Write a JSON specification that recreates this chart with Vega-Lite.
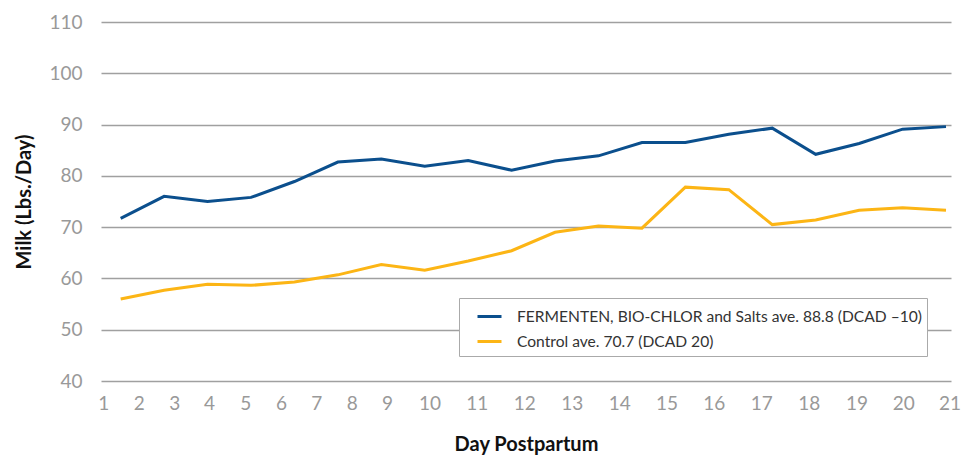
{
  "$schema": "https://vega.github.io/schema/vega-lite/v6.json",
  "width": 850,
  "height": 359,
  "autosize": "none",
  "padding": {"left": 101, "top": 22, "right": 23, "bottom": 74},
  "background": "white",
  "config": {
    "view": {"stroke": null},
    "font": "Lato"
  },
  "data": {
    "values": [
      {"i": 1, "series": "FERMENTEN, BIO-CHLOR and Salts ave. 88.8 (DCAD \u201310)", "milk": 71.7},
      {"i": 2, "series": "FERMENTEN, BIO-CHLOR and Salts ave. 88.8 (DCAD \u201310)", "milk": 76.0},
      {"i": 3, "series": "FERMENTEN, BIO-CHLOR and Salts ave. 88.8 (DCAD \u201310)", "milk": 75.0},
      {"i": 4, "series": "FERMENTEN, BIO-CHLOR and Salts ave. 88.8 (DCAD \u201310)", "milk": 75.8},
      {"i": 5, "series": "FERMENTEN, BIO-CHLOR and Salts ave. 88.8 (DCAD \u201310)", "milk": 78.9},
      {"i": 6, "series": "FERMENTEN, BIO-CHLOR and Salts ave. 88.8 (DCAD \u201310)", "milk": 82.7},
      {"i": 7, "series": "FERMENTEN, BIO-CHLOR and Salts ave. 88.8 (DCAD \u201310)", "milk": 83.3},
      {"i": 8, "series": "FERMENTEN, BIO-CHLOR and Salts ave. 88.8 (DCAD \u201310)", "milk": 81.9},
      {"i": 9, "series": "FERMENTEN, BIO-CHLOR and Salts ave. 88.8 (DCAD \u201310)", "milk": 83.0},
      {"i": 10, "series": "FERMENTEN, BIO-CHLOR and Salts ave. 88.8 (DCAD \u201310)", "milk": 81.1},
      {"i": 11, "series": "FERMENTEN, BIO-CHLOR and Salts ave. 88.8 (DCAD \u201310)", "milk": 82.9},
      {"i": 12, "series": "FERMENTEN, BIO-CHLOR and Salts ave. 88.8 (DCAD \u201310)", "milk": 83.9},
      {"i": 13, "series": "FERMENTEN, BIO-CHLOR and Salts ave. 88.8 (DCAD \u201310)", "milk": 86.5},
      {"i": 14, "series": "FERMENTEN, BIO-CHLOR and Salts ave. 88.8 (DCAD \u201310)", "milk": 86.5},
      {"i": 15, "series": "FERMENTEN, BIO-CHLOR and Salts ave. 88.8 (DCAD \u201310)", "milk": 88.1},
      {"i": 16, "series": "FERMENTEN, BIO-CHLOR and Salts ave. 88.8 (DCAD \u201310)", "milk": 89.3},
      {"i": 17, "series": "FERMENTEN, BIO-CHLOR and Salts ave. 88.8 (DCAD \u201310)", "milk": 84.2},
      {"i": 18, "series": "FERMENTEN, BIO-CHLOR and Salts ave. 88.8 (DCAD \u201310)", "milk": 86.3},
      {"i": 19, "series": "FERMENTEN, BIO-CHLOR and Salts ave. 88.8 (DCAD \u201310)", "milk": 89.1},
      {"i": 20, "series": "FERMENTEN, BIO-CHLOR and Salts ave. 88.8 (DCAD \u201310)", "milk": 89.6},
      {"i": 1, "series": "Control ave. 70.7 (DCAD 20)", "milk": 56.0},
      {"i": 2, "series": "Control ave. 70.7 (DCAD 20)", "milk": 57.7},
      {"i": 3, "series": "Control ave. 70.7 (DCAD 20)", "milk": 58.85},
      {"i": 4, "series": "Control ave. 70.7 (DCAD 20)", "milk": 58.65},
      {"i": 5, "series": "Control ave. 70.7 (DCAD 20)", "milk": 59.3},
      {"i": 6, "series": "Control ave. 70.7 (DCAD 20)", "milk": 60.7},
      {"i": 7, "series": "Control ave. 70.7 (DCAD 20)", "milk": 62.7},
      {"i": 8, "series": "Control ave. 70.7 (DCAD 20)", "milk": 61.6},
      {"i": 9, "series": "Control ave. 70.7 (DCAD 20)", "milk": 63.4},
      {"i": 10, "series": "Control ave. 70.7 (DCAD 20)", "milk": 65.4},
      {"i": 11, "series": "Control ave. 70.7 (DCAD 20)", "milk": 69.0},
      {"i": 12, "series": "Control ave. 70.7 (DCAD 20)", "milk": 70.2},
      {"i": 13, "series": "Control ave. 70.7 (DCAD 20)", "milk": 69.8},
      {"i": 14, "series": "Control ave. 70.7 (DCAD 20)", "milk": 77.8},
      {"i": 15, "series": "Control ave. 70.7 (DCAD 20)", "milk": 77.3},
      {"i": 16, "series": "Control ave. 70.7 (DCAD 20)", "milk": 70.5},
      {"i": 17, "series": "Control ave. 70.7 (DCAD 20)", "milk": 71.4},
      {"i": 18, "series": "Control ave. 70.7 (DCAD 20)", "milk": 73.3},
      {"i": 19, "series": "Control ave. 70.7 (DCAD 20)", "milk": 73.8},
      {"i": 20, "series": "Control ave. 70.7 (DCAD 20)", "milk": 73.3}
    ]
  },
  "mark": {"type": "line", "strokeWidth": 3, "strokeJoin": "miter", "clip": false},
  "encoding": {
    "x": {
      "field": "i",
      "type": "quantitative",
      "scale": {"domain": [0.547, 20.115], "nice": false, "zero": false},
      "axis": {
        "title": "Day Postpartum",
        "titleFont": "Lato",
        "titleFontSize": 20,
        "titleFontWeight": "bold",
        "titleColor": "#111111",
        "titlePadding": 21,
        "values": [0.6, 1.415, 2.232, 3.033, 3.869, 4.691, 5.503, 6.32, 7.131, 8.109, 9.198, 10.289, 11.385, 12.476, 13.565, 14.654, 15.745, 16.838, 17.939, 19.016, 20.08],
        "labelExpr": "indexof([0.6, 1.415, 2.232, 3.033, 3.869, 4.691, 5.503, 6.32, 7.131, 8.109, 9.198, 10.289, 11.385, 12.476, 13.565, 14.654, 15.745, 16.838, 17.939, 19.016, 20.08], datum.value) + 1",
        "labelFontSize": 19,
        "labelColor": "#999999",
        "labelPadding": 22,
        "labelBaseline": "middle",
        "labelOverlap": false,
        "labelFlush": false,
        "ticks": false,
        "domain": false,
        "grid": false
      }
    },
    "y": {
      "field": "milk",
      "type": "quantitative",
      "scale": {"domain": [40, 110], "nice": false, "zero": false},
      "axis": {
        "title": "Milk (Lbs./Day)",
        "titleFont": "Lato",
        "titleFontSize": 20,
        "titleFontWeight": "bold",
        "titleColor": "#111111",
        "titlePadding": 14,
        "values": [40, 50, 60, 70, 80, 90, 100, 110],
        "labelFontSize": 19,
        "labelColor": "#999999",
        "labelPadding": 19,
        "ticks": false,
        "domain": false,
        "grid": true,
        "gridColor": "#a0a0a0",
        "gridWidth": 1.4
      }
    },
    "color": {
      "field": "series",
      "type": "nominal",
      "scale": {
        "domain": ["FERMENTEN, BIO-CHLOR and Salts ave. 88.8 (DCAD \u201310)", "Control ave. 70.7 (DCAD 20)"],
        "range": ["#0b4f8d", "#fcb515"]
      },
      "legend": {
        "title": null,
        "orient": "none",
        "legendX": 358,
        "legendY": 276,
        "direction": "vertical",
        "symbolType": "stroke",
        "symbolSize": 576,
        "symbolStrokeWidth": 3,
        "symbolOffset": 12,
        "labelFontSize": 15.6,
        "labelColor": "#333333",
        "labelOffset": 14,
        "labelLimit": 500,
        "rowPadding": 2,
        "padding": 5,
        "strokeColor": "#aaaaaa",
        "fillColor": "white"
      }
    }
  }
}
